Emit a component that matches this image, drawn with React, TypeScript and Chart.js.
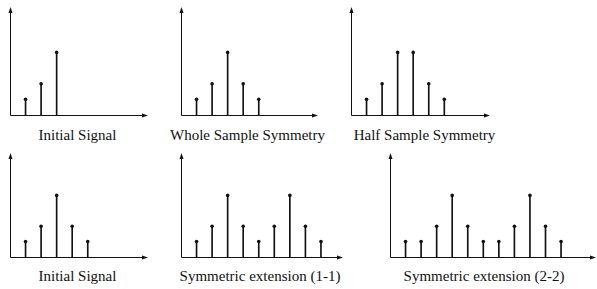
import React, { useEffect, useRef } from "react";
import { Chart, registerables } from "chart.js";

Chart.register(...registerables);

// ---- data ----
const initialSignal = [1, 2, 4];
const wholeSampleSymmetry = [1, 2, 4, 2, 1];
const halfSampleSymmetry = [1, 2, 4, 4, 2, 1];
const initialSignal2 = [1, 2, 4, 2, 1];
const symmetricExtension11 = [1, 2, 4, 2, 1, 2, 4, 2, 1];
const symmetricExtension22 = [1, 1, 2, 4, 2, 1, 1, 2, 4, 2, 1];

const titles = [
  "Initial Signal",
  "Whole Sample Symmetry",
  "Half Sample Symmetry",
  "Initial Signal",
  "Symmetric extension (1-1)",
  "Symmetric extension (2-2)",
];

const seriesList = [
  initialSignal,
  wholeSampleSymmetry,
  halfSampleSymmetry,
  initialSignal2,
  symmetricExtension11,
  symmetricExtension22,
];

// ---- layout (page pixels) ----
const UNIT_X = 15.55;
const panels = [
  { ox: 10, oy: 115, tipX: 148, tipY: 7, unitY: 15.65, labelX: 77.5, labelTop: 127.5 },
  { ox: 181, oy: 115, tipX: 318, tipY: 7, unitY: 15.65, labelX: 247.5, labelTop: 127.5 },
  { ox: 351, oy: 115, tipX: 490, tipY: 7, unitY: 15.65, labelX: 424.5, labelTop: 127.5 },
  { ox: 10, oy: 257, tipX: 148, tipY: 153, unitY: 15.4, labelX: 77.5, labelTop: 269 },
  { ox: 181, oy: 257, tipX: 343, tipY: 153, unitY: 15.4, labelX: 260, labelTop: 269 },
  { ox: 390, oy: 257, tipX: 596, tipY: 153, unitY: 15.4, labelX: 484, labelTop: 269 },
];

const PAD = 4;
const INK = "#111";

const arrowAxes = {
  id: "arrowAxes",
  beforeDatasetsDraw(chart: any) {
    const { ctx, chartArea, scales } = chart;
    const x0 = Math.floor(scales.x.getPixelForValue(0)) + 0.5;
    const y0 = Math.floor(scales.y.getPixelForValue(0)) + 0.5;
    const xt = chartArea.right;
    const yt = chartArea.top;
    ctx.save();
    ctx.strokeStyle = INK;
    ctx.fillStyle = INK;
    ctx.lineWidth = 1;
    ctx.beginPath();
    ctx.moveTo(x0, y0);
    ctx.lineTo(xt - 4, y0);
    ctx.moveTo(x0, y0);
    ctx.lineTo(x0, yt + 4);
    ctx.stroke();
    ctx.beginPath();
    ctx.moveTo(xt, y0);
    ctx.lineTo(xt - 6, y0 - 2);
    ctx.lineTo(xt - 6, y0 + 2);
    ctx.closePath();
    ctx.fill();
    ctx.beginPath();
    ctx.moveTo(x0, yt);
    ctx.lineTo(x0 - 2, yt + 6);
    ctx.lineTo(x0 + 2, yt + 6);
    ctx.closePath();
    ctx.fill();
    ctx.restore();
  },
};

function StemPanel({ values, title, p }: { values: number[]; title: string; p: any }) {
  const ref = useRef<HTMLCanvasElement>(null);
  const left = p.ox - PAD;
  const top = p.tipY - PAD;
  const width = p.tipX - p.ox + 2 * PAD;
  const height = p.oy - p.tipY + 2 * PAD;

  useEffect(() => {
    if (!ref.current) return;
    const pts = values.map((v, i) => ({ x: i + 1, y: v }));
    const chart = new Chart(ref.current, {
      type: "bar",
      data: {
        datasets: [
          {
            type: "scatter",
            data: pts,
            pointRadius: 1.8,
            pointBackgroundColor: INK,
            pointBorderColor: INK,
            pointBorderWidth: 0,
            order: 0,
          } as any,
          {
            type: "bar",
            data: pts,
            backgroundColor: INK,
            borderWidth: 0,
            barThickness: 1,
            order: 1,
          } as any,
        ],
      },
      options: {
        animation: false,
        responsive: false,
        events: [],
        layout: { padding: PAD },
        plugins: {
          legend: { display: false },
          tooltip: { enabled: false },
          title: { display: false },
        },
        scales: {
          x: {
            type: "linear",
            display: false,
            offset: false,
            min: 0,
            max: (p.tipX - p.ox) / UNIT_X,
          },
          y: {
            type: "linear",
            display: false,
            min: 0,
            max: (p.oy - p.tipY) / p.unitY,
          },
        },
      },
      plugins: [arrowAxes],
    });
    return () => chart.destroy();
  }, []);

  return (
    <>
      <canvas
        ref={ref}
        width={width}
        height={height}
        style={{ position: "absolute", left, top, width, height }}
      />
      <div
        style={{
          position: "absolute",
          left: p.labelX,
          top: p.labelTop,
          transform: "translateX(-50%)",
          fontFamily: '"Liberation Serif", "Times New Roman", serif',
          fontSize: 15,
          lineHeight: "15px",
          whiteSpace: "nowrap",
          color: "#111",
        }}
      >
        {title}
      </div>
    </>
  );
}

export default function App() {
  return (
    <div
      style={{
        position: "absolute",
        left: 0,
        top: 0,
        width: 597,
        height: 289,
        overflow: "hidden",
        background: "#fff",
      }}
    >
      {seriesList.map((s, i) => (
        <StemPanel key={i} values={s} title={titles[i]} p={panels[i]} />
      ))}
    </div>
  );
}
